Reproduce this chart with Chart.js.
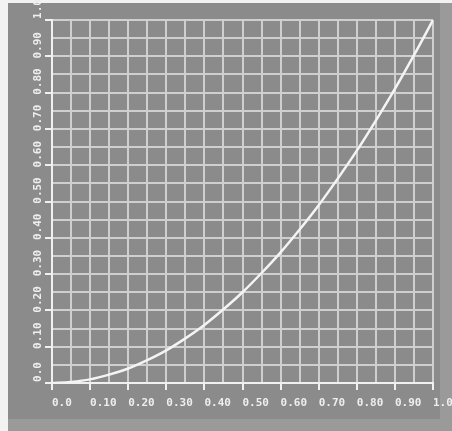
<!DOCTYPE html>
<html>
<head>
<meta charset="utf-8">
<script src="https://cdn.jsdelivr.net/npm/chart.js@4.4.1/dist/chart.umd.min.js"></script>
<style>
  html, body { margin: 0; padding: 0; background: #f2f2f2; }
  #wrap { position: relative; width: 452px; height: 431px; overflow: hidden; }
  #bg { position: absolute; left: 8px; top: 3px; width: 444px; height: 428px; background: #9a9a9a; }
  #panel { position: absolute; left: 8px; top: 3px; width: 432px; height: 416px; background: #8b8b8b; }
  #chart { position: absolute; left: 0; top: 0; }
</style>
</head>
<body>
<div id="wrap">
  <div id="bg"></div>
  <div id="panel"></div>
  <canvas id="chart" width="452" height="431"></canvas>
</div>
<script>
// curve, one point every 0.05
const xValues = [0, 0.05, 0.10, 0.15, 0.20, 0.25, 0.30, 0.35, 0.40, 0.45, 0.50,
                 0.55, 0.60, 0.65, 0.70, 0.75, 0.80, 0.85, 0.90, 0.95, 1.0];
const yValues = [0, 0.003, 0.010, 0.023, 0.040, 0.063, 0.090, 0.123, 0.160, 0.203, 0.250,
                 0.303, 0.360, 0.423, 0.490, 0.563, 0.640, 0.723, 0.810, 0.903, 1.0];

const xTickLabels = ["0.0", "0.10", "0.20", "0.30", "0.40", "0.50", "0.60", "0.70", "0.80", "0.90", "1.0"];
const yTickLabels = ["0.0", "0.10", "0.20", "0.30", "0.40", "0.50", "0.60", "0.70", "0.80", "0.90", "1.0"];

const gridCol = "#cfcfcf";
const axisCol = "#f0f0f0";
const textCol = "#eeeeee";
const tickFont = { family: "'DejaVu Sans Mono', monospace", size: 11, weight: "bold" };

const points = xValues.map((x, i) => ({ x: x, y: yValues[i] }));

const ctx = document.getElementById("chart").getContext("2d");
new Chart(ctx, {
  type: 'line',
  data: {
    datasets: [{
      data: points,
      borderColor: "#f4f4f4",
      borderWidth: 2.5,
      pointRadius: 0,
      cubicInterpolationMode: 'monotone',
      fill: false
    }]
  },
  options: {
    responsive: false,
    animation: false,
    layout: { padding: { left: 0, top: 20, right: 19, bottom: 0 } },
    plugins: {
      legend: { display: false },
      tooltip: { enabled: false }
    },
    scales: {
      x: {
        type: 'linear',
        min: 0,
        max: 1,
        afterFit: (scale) => {
          scale.height = 48;
          scale.paddingRight = 0;
          scale.paddingLeft = 0;
        },
        border: { display: true, color: axisCol, width: 2 },
        grid: {
          color: gridCol,
          lineWidth: 2,
          tickLength: 7,
          tickColor: (c) => (c.index % 2 ? "rgba(0,0,0,0)" : axisCol),
          tickWidth: 2
        },
        ticks: {
          stepSize: 0.05,
          autoSkip: false,
          maxRotation: 0,
          minRotation: 0,
          align: 'start',
          padding: 7,
          color: textCol,
          font: tickFont,
          callback: (v, i) => (i % 2 ? "" : xTickLabels[i / 2])
        }
      },
      y: {
        type: 'linear',
        min: 0,
        max: 1,
        afterFit: (scale) => { scale.width = 52; },
        border: { display: true, color: axisCol, width: 2 },
        grid: {
          color: gridCol,
          lineWidth: 2,
          tickLength: 7,
          tickColor: (c) => (c.index % 2 ? "rgba(0,0,0,0)" : axisCol),
          tickWidth: 2
        },
        ticks: {
          stepSize: 0.05,
          autoSkip: false,
          minRotation: 90,
          maxRotation: 90,
          crossAlign: 'center',
          padding: -6,
          labelOffset: -11,
          color: textCol,
          font: tickFont,
          callback: (v, i) => (i % 2 ? "" : yTickLabels[i / 2])
        }
      }
    }
  }
});
</script>
</body>
</html>
